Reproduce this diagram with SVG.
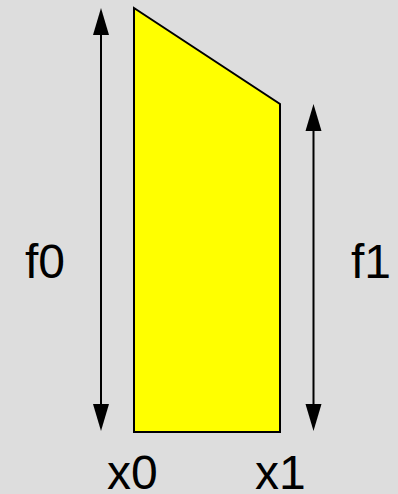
<svg xmlns="http://www.w3.org/2000/svg" width="398" height="494" viewBox="0 0 398 494">
<style>
.lbl{font-family:"Liberation Sans",Arial,sans-serif;font-size:48px;fill:#000}
.ln{stroke:#000;stroke-width:2;fill:none}
.hd{fill:#000}
</style>
<rect width="398" height="494" fill="#dddddd"/>
<g id="shape">
<polygon points="134,8 280,104 280,432 134,432" fill="#ffff00" stroke="#000" stroke-width="2" stroke-linejoin="miter"/>
</g>
<g id="connectors">
<line class="ln" x1="101" y1="30" x2="101" y2="410"/>
<polygon class="hd" points="101,8 93,35 109,35"/>
<polygon class="hd" points="101,431 93,404 109,404"/>
<line class="ln" x1="313.5" y1="126" x2="313.5" y2="410"/>
<polygon class="hd" points="313.5,104 305.5,131 321.5,131"/>
<polygon class="hd" points="313.5,431 305.5,404 321.5,404"/>
</g>
<g id="labels">
<text class="lbl" x="25" y="278">f0</text>
<text class="lbl" x="351" y="278">f1</text>
<text class="lbl" x="107" y="489">x0</text>
<text class="lbl" x="255" y="489">x1</text>
</g>
</svg>
